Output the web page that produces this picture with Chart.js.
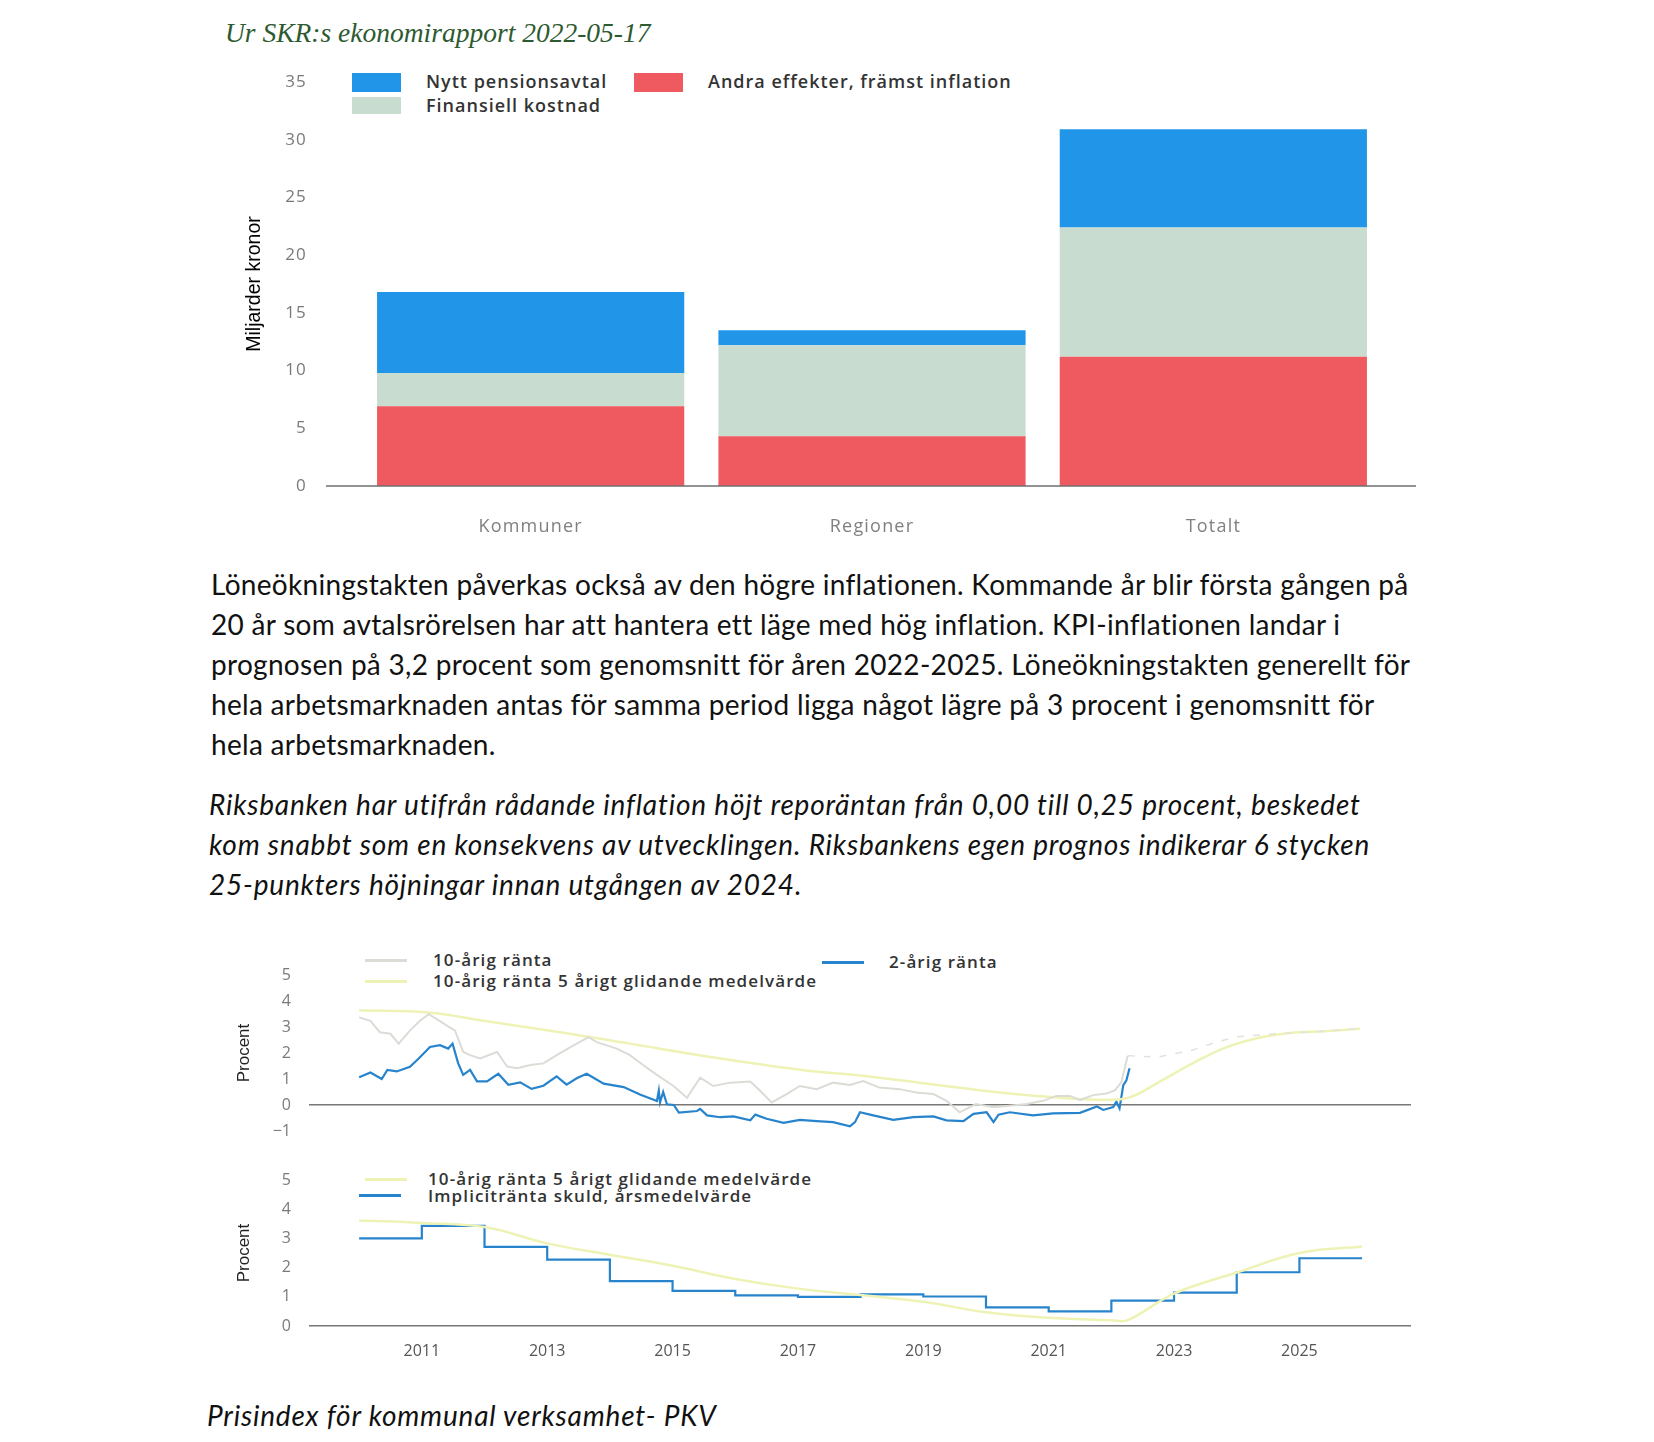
<!DOCTYPE html>
<html lang="sv">
<head>
<meta charset="utf-8">
<title>Ur SKR:s ekonomirapport</title>
<script src="https://cdn.jsdelivr.net/npm/chart.js@4.4.0/dist/chart.umd.min.js"></script>
<style>
  body { margin: 0; background: #fff; width: 1654px; height: 1442px; position: relative; overflow: hidden; }
  .abs { position: absolute; }
  .title { left: 225px; top: 17px; font-family: 'Liberation Serif', serif; font-style: italic; font-size: 27.5px; color: #2d5a30; white-space: nowrap; }
  .para { font-family: Lato, 'Open Sans', sans-serif; font-size: 28px; line-height: 40px; color: #111; white-space: nowrap; letter-spacing: 0.3px; }
  .it { font-style: italic; letter-spacing: 0.8px; }
  .lg { font-family: 'Open Sans', sans-serif; font-weight: 600; color: #333; white-space: nowrap; }
  .lg1 { font-size: 18px; letter-spacing: 1px; }
  .lg2 { font-size: 17px; letter-spacing: 1.1px; }
  .box { position: absolute; width: 49px; height: 19px; }
  .ln { position: absolute; width: 42px; height: 3px; }
  .wrap { position: absolute; left: 230px; width: 1200px; }
</style>
</head>
<body>

<div class="abs title">Ur SKR:s ekonomirapport 2022-05-17</div>

<!-- legend chart 1 -->
<div class="box" style="left:352px;top:73px;background:#2196e8"></div>
<div class="abs lg lg1" style="left:426px;top:69px">Nytt pensionsavtal</div>
<div class="box" style="left:634px;top:73px;background:#ee5a5f"></div>
<div class="abs lg lg1" style="left:708px;top:69px">Andra effekter, främst inflation</div>
<div class="box" style="left:352px;top:97px;height:17px;background:#c9dcd0"></div>
<div class="abs lg lg1" style="left:426px;top:93px">Finansiell kostnad</div>

<div class="wrap" style="top:60px;height:500px"><canvas id="costChart"></canvas></div>

<div class="abs para" style="left:211px;top:564px">Löneökningstakten påverkas också av den högre inflationen. Kommande år blir första gången på<br>20 år som avtalsrörelsen har att hantera ett läge med hög inflation. KPI-inflationen landar i<br>prognosen på 3,2 procent som genomsnitt för åren 2022-2025. Löneökningstakten generellt för<br>hela arbetsmarknaden antas för samma period ligga något lägre på 3 procent i genomsnitt för<br>hela arbetsmarknaden.</div>

<div class="abs para it" style="left:209px;top:784px">Riksbanken har utifrån rådande inflation höjt reporäntan från 0,00 till 0,25 procent, beskedet<br>kom snabbt som en konsekvens av utvecklingen. Riksbankens egen prognos indikerar 6 stycken<br>25-punkters höjningar innan utgången av 2024.</div>

<!-- legend chart 2 -->
<div class="ln" style="left:365px;top:959px;background:#dcdcd6"></div>
<div class="abs lg lg2" style="left:433px;top:948px">10-årig ränta</div>
<div class="ln" style="left:365px;top:980px;background:#eef3b5"></div>
<div class="abs lg lg2" style="left:433px;top:969px">10-årig ränta 5 årigt glidande medelvärde</div>
<div class="ln" style="left:822px;top:961px;background:#2784cc"></div>
<div class="abs lg lg2" style="left:889px;top:950px">2-årig ränta</div>

<div class="wrap" style="top:940px;height:200px"><canvas id="rateChart"></canvas></div>

<!-- legend chart 3 -->
<div class="ln" style="left:365px;top:1178px;background:#eef3b5"></div>
<div class="abs lg lg2" style="left:428px;top:1167px">10-årig ränta 5 årigt glidande medelvärde</div>
<div class="ln" style="left:359px;top:1194px;background:#2784cc"></div>
<div class="abs lg lg2" style="left:428px;top:1184px">Implicitränta skuld, årsmedelvärde</div>

<div class="wrap" style="top:1150px;height:230px"><canvas id="debtChart"></canvas></div>

<div class="abs para it" style="left:207px;top:1395px">Prisindex för kommunal verksamhet- PKV</div>

<script>
// chart 1: kostnadsökning pensioner
const costLabels = ['Kommuner', 'Regioner', 'Totalt'];
const inflationEffect = [6.9, 4.3, 11.2];
const financialCost = [2.9, 7.9, 11.2];
const newPensionDeal = [7.0, 1.3, 8.5];

// chart 2: räntor
const tenYearX = [2010.0, 2010.18, 2010.33, 2010.5, 2010.63, 2010.81, 2010.97, 2011.11, 2011.24, 2011.4, 2011.53, 2011.66, 2011.77, 2011.93,
  2012.2, 2012.36, 2012.52, 2012.73, 2012.94, 2013.15, 2013.37, 2013.66, 2013.79, 2014.11, 2014.32, 2014.53, 2014.75, 2015.02,
  2015.23, 2015.44, 2015.65, 2015.92, 2016.24, 2016.4, 2016.58, 2016.82, 2017.03, 2017.3, 2017.56, 2017.83, 2018.04, 2018.3,
  2018.62, 2018.89, 2019.16, 2019.37, 2019.58, 2019.84, 2020.12, 2020.38, 2020.65, 2020.91, 2021.12, 2021.34, 2021.5, 2021.71,
  2021.92, 2022.06, 2022.16, 2022.26];
const tenYearY = [3.37, 3.24, 2.8, 2.74, 2.36, 2.86, 3.24, 3.49, 3.3, 3.05, 2.86, 2.04, 1.92, 1.79,
  2.04, 1.48, 1.41, 1.54, 1.6, 1.92, 2.23, 2.61, 2.42, 2.17, 1.92, 1.54, 1.16, 0.72,
  0.28, 1.05, 0.73, 0.86, 0.9, 0.54, 0.1, 0.42, 0.73, 0.61, 0.86, 0.77, 0.92, 0.67,
  0.61, 0.48, 0.42, 0.16, -0.28, 0.04, -0.09, -0.03, 0.04, 0.16, 0.35, 0.35, 0.19, 0.38,
  0.44, 0.57, 0.88, 1.89];
const tenYearFcX = [2022.26, 2022.75, 2023.28, 2023.65, 2024.0, 2024.44, 2024.86, 2025.43, 2025.92];
const tenYearFcY = [1.89, 1.85, 2.1, 2.4, 2.62, 2.71, 2.77, 2.84, 2.94];
const avgTopX = [2010.0, 2011.1, 2012.09, 2013.26, 2014.32, 2015.6, 2017.03, 2018.1, 2019.16, 2020.22, 2021.29, 2022.0, 2022.3,
  2022.76, 2023.28, 2023.81, 2024.34, 2024.86, 2025.4, 2025.97];
const avgTopY = [3.64, 3.56, 3.2, 2.78, 2.36, 1.85, 1.36, 1.11, 0.79, 0.48, 0.26, 0.2, 0.3,
  0.88, 1.58, 2.2, 2.58, 2.77, 2.84, 2.93];
const twoYearX = [2010.0, 2010.18, 2010.36, 2010.45, 2010.6, 2010.81, 2010.95, 2011.13, 2011.29, 2011.42, 2011.49, 2011.58, 2011.66,
  2011.77, 2011.88, 2012.04, 2012.22, 2012.38, 2012.57, 2012.75, 2012.94, 2013.15, 2013.31, 2013.47, 2013.63, 2013.9, 2014.22,
  2014.48, 2014.75, 2014.78, 2014.8, 2014.85, 2014.91, 2015.02, 2015.1, 2015.39, 2015.44, 2015.55, 2015.76, 2015.97, 2016.24,
  2016.32, 2016.5, 2016.77, 2017.03, 2017.3, 2017.56, 2017.83, 2017.91, 2017.99, 2018.2, 2018.52, 2018.84, 2019.16, 2019.37,
  2019.64, 2019.8, 2020.01, 2020.12, 2020.2, 2020.38, 2020.75, 2021.07, 2021.5, 2021.77, 2021.87, 2022.03, 2022.08, 2022.13,
  2022.19, 2022.24, 2022.29];
const twoYearY = [1.07, 1.25, 1.0, 1.35, 1.29, 1.47, 1.79, 2.23, 2.3, 2.17, 2.36, 1.6, 1.16,
  1.35, 0.91, 0.91, 1.2, 0.78, 0.87, 0.62, 0.74, 1.1, 0.78, 1.03, 1.2, 0.82, 0.69,
  0.4, 0.15, 0.55, 0.1, 0.5, 0.03, 0.0, -0.29, -0.23, -0.15, -0.4, -0.47, -0.44, -0.59,
  -0.37, -0.53, -0.69, -0.57, -0.62, -0.66, -0.82, -0.66, -0.28, -0.4, -0.57, -0.47, -0.44, -0.59,
  -0.62, -0.34, -0.28, -0.66, -0.37, -0.28, -0.4, -0.32, -0.3, -0.06, -0.19, -0.08, 0.13, -0.13,
  0.76, 0.95, 1.41];

// chart 3: implicitränta skuld
const stepYears = [2010, 2011, 2012, 2013, 2014, 2015, 2016, 2017, 2018, 2019, 2020, 2021, 2022, 2023, 2024, 2025, 2026];
const implicitRate = [3.0, 3.43, 2.71, 2.27, 1.54, 1.2, 1.05, 1.0, 1.08, 1.01, 0.64, 0.5, 0.87, 1.14, 1.84, 2.32, 2.32];
const avgLowX = [2010, 2011, 2012, 2013, 2014, 2015, 2016, 2017, 2018, 2019, 2020, 2021, 2022, 2022.26, 2023, 2024, 2025, 2026];
const avgLowY = [3.61, 3.53, 3.39, 2.83, 2.44, 2.06, 1.61, 1.28, 1.06, 0.83, 0.47, 0.28, 0.2, 0.2, 1.11, 1.83, 2.5, 2.72];
const yearTicks = [2011, 2013, 2015, 2017, 2019, 2021, 2023, 2025];

const tickFont = { family: "'Open Sans', sans-serif", size: 16 };
const tickColor = '#7a7a7a';
const narrowFont = "'Liberation Sans Narrow', 'Liberation Sans', sans-serif";
const pts = (xs, ys) => xs.map((x, i) => ({ x: x, y: ys[i] }));

// keep y tick padding from pushing the plot area around
const fitY = w => s => { s.width = w; s.paddingTop = 8; s.paddingBottom = 8; };

// line across the whole plot at y = 0, a bit wider than the bars
const baseline = {
  id: 'baseline',
  afterDatasetsDraw(chart) {
    const ctx = chart.ctx;
    const y = chart.scales.y.getPixelForValue(0);
    ctx.save();
    ctx.strokeStyle = '#6f6f6f';
    ctx.lineWidth = 1.5;
    ctx.beginPath();
    ctx.moveTo(chart.chartArea.left - 34, y);
    ctx.lineTo(chart.chartArea.right + 32, y);
    ctx.stroke();
    ctx.restore();
    // tick labels (z: 1) come after this, drawn a bit wider apart
    ctx.letterSpacing = '1.2px';
  }
};

new Chart(document.getElementById('costChart'), {
  type: 'bar',
  data: {
    labels: costLabels,
    datasets: [
      { label: 'Andra effekter, främst inflation', data: inflationEffect, backgroundColor: '#ee5a5f' },
      { label: 'Finansiell kostnad', data: financialCost, backgroundColor: '#c9dcd0' },
      { label: 'Nytt pensionsavtal', data: newPensionDeal, backgroundColor: '#2196e8' }
    ]
  },
  options: {
    responsive: true,
    maintainAspectRatio: false,
    animation: false,
    barPercentage: 0.9,
    categoryPercentage: 1.0,
    layout: { padding: { top: 22, right: 46, bottom: 0, left: 0 } },
    plugins: { legend: { display: false }, tooltip: { enabled: false } },
    scales: {
      x: {
        stacked: true,
        grid: { display: false },
        border: { display: false },
        ticks: { z: 1, padding: 22, color: '#808080', font: { family: "'Open Sans', sans-serif", size: 18 } },
        afterFit(s) { s.height = 74; }
      },
      y: {
        stacked: true,
        min: 0,
        max: 35,
        grid: { display: false },
        border: { display: false },
        ticks: { z: 1, stepSize: 5, padding: 45, color: tickColor, font: { family: "'Open Sans', sans-serif", size: 17 } },
        title: { display: true, text: 'Miljarder kronor', color: '#000', font: { family: narrowFont, size: 19.5 }, padding: { top: 13, bottom: 0 } },
        afterFit: fitY(130)
      }
    }
  },
  plugins: [baseline]
});

const zeroGrid = {
  drawTicks: false,
  lineWidth: 1.5,
  color: ctx => (ctx.tick && ctx.tick.value === 0 ? '#777' : 'rgba(0,0,0,0)')
};

// chart 2
new Chart(document.getElementById('rateChart'), {
  type: 'line',
  data: {
    datasets: [
      { label: '10-årig ränta', data: pts(tenYearX, tenYearY), borderColor: '#dcdcd6', borderWidth: 2 },
      { label: '10-årig ränta prognos', data: pts(tenYearFcX, tenYearFcY), borderColor: '#e2e2de', borderWidth: 1.5, borderDash: [7, 9] },
      { label: '10-årig ränta 5 årigt glidande medelvärde', data: pts(avgTopX, avgTopY), borderColor: '#eef3b5', borderWidth: 2.5, tension: 0.4 },
      { label: '2-årig ränta', data: pts(twoYearX, twoYearY), borderColor: '#2784cc', borderWidth: 2.2 }
    ]
  },
  options: {
    responsive: true,
    maintainAspectRatio: false,
    animation: false,
    elements: { point: { radius: 0 } },
    layout: { padding: { top: 35, right: 19, bottom: 9, left: 0 } },
    plugins: { legend: { display: false }, tooltip: { enabled: false } },
    scales: {
      x: { type: 'linear', min: 2009.2, max: 2026.78, display: false },
      y: {
        min: -1,
        max: 5,
        grid: zeroGrid,
        border: { display: false },
        ticks: { stepSize: 1, padding: 18, color: tickColor, font: tickFont, callback: v => String(v).replace('-', '\u2212') },
        title: { display: true, text: 'Procent', color: '#222', font: { family: narrowFont, size: 17 }, padding: { top: 4, bottom: 0 } },
        afterFit: fitY(79)
      }
    }
  }
});

// chart 3
new Chart(document.getElementById('debtChart'), {
  type: 'line',
  data: {
    datasets: [
      { label: '10-årig ränta 5 årigt glidande medelvärde', data: pts(avgLowX, avgLowY), borderColor: '#eef3b5', borderWidth: 2.5, tension: 0.4 },
      { label: 'Implicitränta skuld, årsmedelvärde', data: pts(stepYears, implicitRate), borderColor: '#2784cc', borderWidth: 2.2, stepped: true }
    ]
  },
  options: {
    responsive: true,
    maintainAspectRatio: false,
    animation: false,
    elements: { point: { radius: 0 } },
    layout: { padding: { top: 30, right: 19, bottom: 0, left: 0 } },
    plugins: { legend: { display: false }, tooltip: { enabled: false } },
    scales: {
      x: {
        type: 'linear',
        min: 2009.2,
        max: 2026.78,
        grid: { display: false },
        border: { display: false },
        afterBuildTicks(s) { s.ticks = yearTicks.map(v => ({ value: v })); },
        ticks: { padding: 8, color: '#555', font: tickFont, callback: v => String(v) },
        afterFit(s) { s.height = 54; }
      },
      y: {
        min: 0,
        max: 5,
        grid: zeroGrid,
        border: { display: false },
        ticks: { stepSize: 1, padding: 18, color: tickColor, font: tickFont },
        title: { display: true, text: 'Procent', color: '#222', font: { family: narrowFont, size: 17 }, padding: { top: 4, bottom: 0 } },
        afterFit: fitY(79)
      }
    }
  }
});
</script>
</body>
</html>
